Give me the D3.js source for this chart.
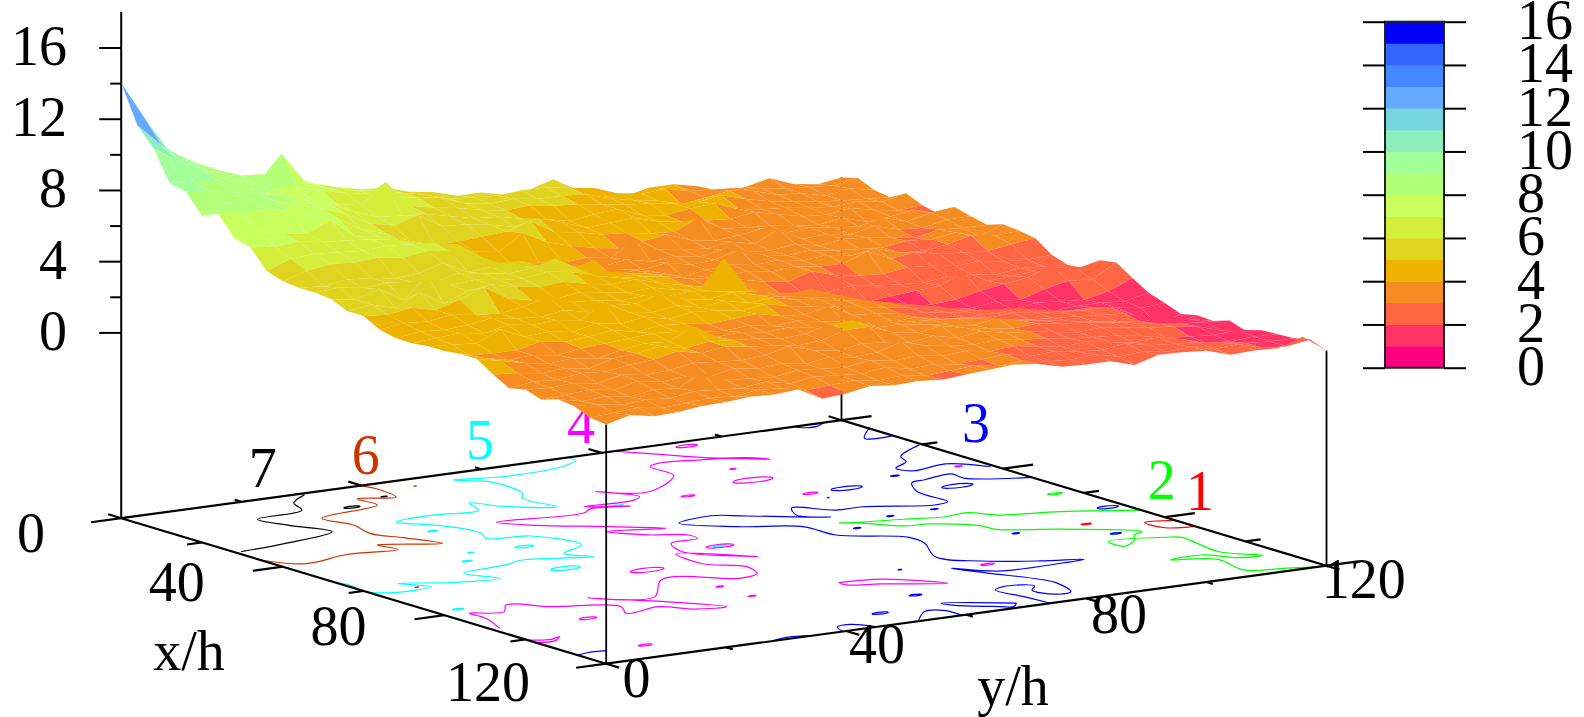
<!DOCTYPE html>
<html><head><meta charset="utf-8">
<style>html,body{margin:0;padding:0;background:#fff}svg{display:block}text{font-family:"Liberation Serif",serif;font-size:56px}</style>
<script src="https://cdn.jsdelivr.net/npm/d3@7"></script></head><body>
<svg id="c" width="1584" height="717"></svg>
<script>
const gridX=d3.range(0,121,4), gridY=d3.range(0,121,4);
const zRows=[
[14,11.8,9.8,9.05,8.4,7.9,7.8,7.5,6.9,6.5,6.2,6.1,5.7,5.5,5.1,5.1,4.8,4.9,5.3,4.5,4.1,3.8,4.1,4.1,3.8,3.35,3.4,3.7,3.2,3.0,3.2],
[11.9,10.6,9.6,8.7,8.2,7.7,9.2,7.4,6.9,6.6,6.4,6.1,5.8,5.4,5.3,5.2,5.3,5.3,5.1,4.9,4.4,4.2,4.3,4.0,3.9,3.8,3.6,3.4,3.3,3.2,3.45],
[10.9,10.0,9.3,8.6,8.2,7.9,7.6,7.2,6.9,6.7,6.3,6.1,5.9,5.4,5.2,5.3,5.1,5.1,5.0,4.6,4.3,4.1,3.7,3.9,4.1,3.9,3.5,3.4,3.1,3.3,3.05],
[9.2,9.1,8.9,8.5,7.9,8.2,7.1,6.7,6.5,7.6,6.1,5.8,5.6,5.3,5.1,5.2,5.0,4.9,4.7,4.5,4.4,4.2,4.1,4.3,3.9,3.6,3.4,3.2,3.1,3.0,2.9],
[9.0,8.8,8.6,8.3,8.1,7.6,7.2,6.6,6.1,6.0,5.9,5.6,5.3,5.2,4.9,4.7,4.4,4.6,4.7,4.2,4.0,4.2,4.3,3.8,3.6,3.5,3.3,3.2,3.3,3.1,3.4],
[7.9,8.4,8.5,8.2,7.8,7.4,6.9,6.2,5.9,6.3,5.5,5.4,5.2,4.9,5.2,4.8,4.3,4.4,4.5,4.1,3.9,3.8,3.7,3.9,3.6,3.3,3.2,3.4,3.1,2.9,3.0],
[8.3,8.1,8.2,7.9,7.4,7.1,6.3,5.9,5.3,4.9,4.9,5.0,5.1,5.5,4.7,4.5,4.2,4.1,3.9,3.8,4.4,3.6,3.5,3.4,3.2,3.1,3.3,2.9,3.0,3.2,2.8],
[7.2,7.4,7.1,6.9,7.5,6.4,6.2,5.7,5.4,4.8,4.6,4.4,5.3,4.6,4.2,3.9,3.7,3.9,4.1,3.6,3.4,3.5,3.7,3.3,3.4,3.2,3.1,3.4,3.0,3.3,3.45],
[6.95,6.8,6.9,6.7,6.6,6.5,6.3,5.9,5.2,4.6,4.0,3.8,3.9,3.7,3.8,3.6,4.5,3.7,3.5,3.4,3.6,3.3,3.95,3.2,3.3,3.1,3.4,3.0,2.9,3.2,3.2],
[5.9,6.4,6.5,6.4,6.3,6.4,6.3,6.2,5.9,5.0,4.5,4.2,3.9,3.7,3.6,3.8,3.5,3.6,3.4,3.6,3.3,3.2,3.4,3.1,3.3,3.2,3.0,2.8,3.1,3.0,3.0],
[5.6,6.0,6.2,6.1,6.2,6.0,6.2,6.0,5.4,5.0,4.9,4.5,4.1,4.4,3.7,3.5,3.7,3.4,3.5,3.9,3.4,3.2,3.3,3.1,3.0,2.9,3.1,3.0,3.2,2.8,3.3],
[5.5,5.4,5.6,5.5,5.3,5.4,5.8,5.1,5.2,5.3,4.9,4.7,4.0,3.8,3.9,3.6,3.2,3.4,3.5,3.3,3.4,3.2,3.3,3.1,3.3,2.9,2.8,3.0,3.3,3.1,3.2],
[5.5,5.6,5.4,5.5,5.4,5.2,5.5,5.3,5.1,5.2,5.6,4.8,4.5,4.2,4.0,3.7,3.5,3.3,3.4,3.2,3.3,3.1,3.1,3.6,3.0,3.2,2.9,2.8,2.7,2.9,3.05],
[5.4,5.2,5.6,4.8,6.0,5.3,5.4,5.2,5.1,5.3,5.1,4.7,4.4,4.3,4.1,3.8,3.6,3.4,3.1,2.9,3.3,2.9,2.7,2.6,2.8,2.7,2.5,2.6,2.4,2.3,2.4],
[5.0,5.2,4.8,5.5,4.7,5.2,5.4,5.1,4.9,5.0,4.7,4.5,4.6,4.2,3.9,3.6,3.3,3.0,2.7,2.5,2.4,2.6,2.4,2.3,2.2,2.4,2.3,2.1,2.3,2.2,2.1],
[5.0,4.9,5.1,4.8,5.2,5.7,4.9,4.6,4.5,4.7,4.5,4.3,4.4,4.1,3.9,5.5,3.6,3.2,2.8,2.6,2.3,1.95,2.1,2.2,2.3,2.9,2.2,2.3,2.4,2.2,2.2],
[4.5,4.7,4.6,4.8,4.6,4.5,4.7,5.1,4.6,4.5,4.3,4.4,4.2,4.3,4.1,3.9,3.7,3.4,3.5,3.0,2.6,2.0,1.8,1.7,1.8,2.1,2.3,2.5,3.0,2.6,2.9],
[4.3,4.5,4.4,4.5,4.7,4.5,4.4,4.6,4.3,4.5,4.4,4.8,4.3,4.1,4.3,4.0,3.7,3.5,3.3,3.1,2.7,2.3,1.9,1.7,1.6,1.8,1.7,2.1,2.4,2.3,3.05],
[4.3,4.4,4.5,4.3,4.6,4.4,4.5,4.3,5.1,4.4,4.2,4.4,4.1,4.3,4.0,4.1,3.8,3.6,3.4,3.2,2.9,2.6,2.3,2.0,1.7,1.6,1.8,1.7,1.6,1.9,2.45],
[4.4,4.3,4.2,4.8,4.2,4.3,4.1,4.4,4.2,4.4,4.1,4.3,4.2,4.0,4.2,3.9,3.7,3.5,3.3,3.1,2.9,2.6,2.4,2.2,2.1,1.9,1.6,1.7,1.7,1.6,1.9],
[4.4,4.0,3.9,3.9,4.2,4.0,4.1,4.3,4.0,4.2,4.1,3.9,4.0,4.1,3.8,3.7,4.0,3.3,3.2,3.0,2.9,2.7,2.5,2.3,2.4,2.1,1.9,1.9,1.7,1.5,1.6],
[4.5,4.1,3.8,3.9,3.7,3.9,4.0,4.1,4.2,4.1,3.9,3.8,3.9,3.7,3.8,3.6,3.4,3.2,3.0,3.1,2.8,2.7,2.5,2.6,2.4,2.3,2.2,2.2,1.6,0.9,1.25],
[4.5,4.2,3.9,3.7,3.8,3.6,3.9,4.1,4.0,4.7,3.9,4.0,3.8,3.9,3.7,3.6,3.8,3.5,3.3,3.2,3.1,2.9,2.7,2.5,2.4,2.3,2.2,2.1,1.7,1.1,1.45],
[3.9,3.8,3.6,3.7,3.5,3.9,4.0,4.2,3.9,4.1,4.0,3.9,3.7,3.8,4.15,4.2,3.6,3.6,3.4,3.2,3.0,3.2,2.9,2.7,2.5,2.3,2.1,1.9,2.0,1.7,1.4],
[3.4,3.6,3.5,3.7,3.6,3.8,3.9,4.2,3.9,4.1,3.9,3.8,3.6,3.7,4.1,4.1,3.6,3.4,3.6,3.3,3.1,2.9,3.0,2.8,2.7,2.5,2.3,2.1,1.9,1.8,1.7],
[3.6,3.5,3.6,3.4,3.7,3.5,3.6,3.8,3.7,3.6,3.7,4.0,3.6,3.4,3.6,3.5,3.3,3.5,3.2,3.4,3.1,3.0,2.8,2.6,2.7,2.5,2.3,2.2,2.0,1.6,1.4],
[3.3,3.4,3.5,3.3,3.6,3.4,3.5,3.3,3.6,3.4,3.5,3.3,3.5,3.3,3.4,3.8,3.4,3.2,3.1,3.2,3.0,2.9,2.7,2.6,2.5,2.3,2.0,1.9,1.8,1.9,1.7],
[3.6,3.3,3.4,3.2,3.4,3.3,4.0,3.4,3.3,3.2,3.4,3.3,3.2,3.4,3.2,3.3,3.1,3.2,3.0,3.1,2.9,2.7,2.8,2.6,2.4,2.5,2.2,1.8,1.7,1.8,1.75],
[3.5,3.4,3.2,3.3,3.2,3.4,3.3,3.2,3.4,3.1,3.3,3.2,3.1,3.3,3.0,3.1,2.9,3.0,3.1,2.8,2.9,2.7,2.6,2.8,2.5,2.4,2.3,2.1,1.9,1.8,1.8],
[3.1,3.2,3.3,3.1,3.2,3.3,3.2,3.4,3.3,3.0,3.1,3.2,3.0,3.1,2.9,3.0,3.1,2.9,3.0,2.8,2.7,2.8,2.5,2.6,2.4,2.5,2.2,2.3,1.9,1.8,2.0],
[3.0,3.35,3.1,3.15,3.3,3.35,3.45,3.4,3.5,2.8,2.9,3.15,3.0,3.05,2.95,3.05,3.15,3.25,3.1,2.75,2.7,2.7,2.3,2.7,2.65,2.55,2.15,2.2,2.15,2.6,1.65]
];
const palette=["#ff0080","#ff3366","#ff6644","#f58d22","#eeb300","#e0d420","#d5ee3c","#c8ff5c","#b3ff77","#a3ff99","#8eeebb","#77d5dd","#66aaff","#4488ff","#3366ff","#0000ff"];
const zTicks=[0,4,8,12,16], zMinor=[2,6,10,14];
const barTicks=[0,2,4,6,8,10,12,14,16];
const xMajor=[0,40,80,120], xMinor=[20,60,100];
const yMajor=[0,40,80,120], yMinor=[20,60,100];
const contourLabels=[7,6,5,4,3,2,1];
const contourColors=["#000000","#cc3300","#00ffff","#ff00ff","#0000ff","#00ff00","#ff0000"];
const c7=[[[0.9,29.9],[4.7,25.6],[9.4,23.8],[11.1,15.2],[17,16.5],[24,19],[27,9],[28.2,1]]];
const c6=[[[0.2,39.9],[4,40.5],[9.2,39.6],[7.3,34.4],[12.3,34.4],[15.5,23],[22,24],[27.8,22.7],[33,25],[39.1,27.2],[35,19.1],[39.1,19.8],[38,12],[40.1,3.8],[34.5,0]]];
const c5=[[[0.5,74.4],[2.5,74],[4.8,70.1],[5.9,59.5],[4,52.6],[7.9,56.2],[12,56.5],[16.9,55.5],[19.5,53.7],[27.1,54.4],[22.4,48],[18.3,45.7],[23.1,44],[22.3,36.9],[23.3,30.1],[29.4,34],[36.4,35.5],[39.6,34.1],[41.7,40.1],[50.8,42.5],[54.1,37.3],[58.3,39.5],[54.7,30],[56.2,26.2],[57.7,18.2],[63.5,20.4],[61.9,13],[58.4,6.8],[62.9,9.3],[63.2,2.6],[60.9,0]],[[53.5,0.1],[55,0.6],[57.5,0.4]]];
const c4=[[[0,82],[3.3,84.6],[8,88],[11.6,91],[14,95],[16.7,96.9],[13,92.5],[11.6,88.7],[10.3,82.5],[11.6,80.3],[18.2,79.8],[20.8,77.6],[25.7,70.8],[24.5,66.8],[21.5,64.5],[27.7,67.7],[29.3,65.7],[29.2,57.4],[32.4,63],[31,57.2],[32.8,55],[31.2,41.5],[35.5,44.3],[42.4,52.6],[47.8,58.6],[45,50.4],[50.1,53.9],[53.3,58.6],[56,58.3],[56.7,53.4],[62.2,51.5],[70.9,58.3],[63,50],[70.7,49.2],[75.8,53.2],[80.4,51.8],[81.9,48.2],[76.7,38.3],[85.7,31.2],[81.3,23],[89.7,30.8],[97,35.6],[95.8,31],[91.7,27.8],[92.9,21.6],[88.8,23.5],[83.4,15.5],[79,10.9],[82.6,8.2],[80.8,3.6],[84.9,3.6],[91.7,1.3]],[[100.5,0],[102,3],[101,5],[103,3],[102.5,0]],[[92,57.6],[93.4,64],[100.8,69.9],[96,62],[93.8,57.6],[92,57.6]]];
const c3=[[[0,112],[1.5,113],[1.5,115],[0,117]],[[7,119.8],[11.9,115.8],[12.8,119.8]],[[20,119.5],[25.2,112.9],[28.5,111.6],[31.4,107.9],[34.3,109],[32.8,115.2],[37.9,119.3]],[[47.1,120],[42.3,111.9],[38.9,112.1],[40.2,106.8],[41,104.1],[46.3,101.4],[54.4,101.1],[55.3,98.3],[50.7,89.3],[50.6,85],[46,80.7],[50.3,78.6],[54.2,81.7],[47,72.5],[44.1,68.5],[45.9,62],[52.3,67.3],[57.6,75],[64.7,75.5],[71.7,83],[76.3,82.5],[84.6,78.6],[90.8,82.4],[95.2,89],[97.6,94.7],[98.1,90.5],[97.7,80.3],[92.5,76],[98.1,78.3],[108.7,82.5],[115,80.8],[115.2,78],[111,77],[109,78.8],[106.9,75],[108.2,72.8],[114.2,73.5],[119.8,74]],[[117.3,70.2],[111.5,61.5],[113.5,62],[118,67],[119.1,68.5],[117.3,70.2]],[[120,52],[115,56.4],[116.1,59.2],[119.7,59.3]],[[119.8,39.5],[117,40.5],[116.5,43],[119.8,45]],[[119.8,28],[119,31],[119.8,34]],[[113,0],[112.3,2],[112.6,5]]];
const c2=[[[74.2,120],[68.8,110.2],[65.9,101.7],[62.1,99],[62.8,95],[61,89.3],[58.5,81],[58,80.5],[60,83],[64.8,86.7],[65.7,90.5],[70.5,95.6],[73.8,96],[78.8,103.5],[86.4,111.9],[87.7,109.7],[90.6,107.8],[93.4,104.3],[89.4,104.2],[91.4,112.4],[92.8,114.2],[103.6,113],[109.2,116.6],[108.7,113],[104.3,109.8],[104.7,104.3],[108,110],[116,108.9],[118.3,114.4],[120,119]]];
const c1=[[[82.7,120],[81.5,115.6],[86,116],[87.5,120]]];
const contours=[c7,c6,c5,c4,c3,c2,c1];
const islands7=[[8,38.4,0.5],[11.5,30.7,1.3]];
const islands6=[[4.4,46,0.2],[62,7.5,0.3]];
const islands5=[[47.2,35.4,1.5],[62.7,31.8,2.4],[31.3,30.8,0.8],[46.5,26.9,0.5],[51,23.3,0.8],[77.6,3.9,0.9],[31.2,61.7,0.9],[62,58,1.1]];
const islands4=[[2.7,92.4,1.7],[19.3,88.9,0.5],[27.1,87,3.2],[31.1,73.5,1.1],[39.1,88.5,1.2],[35.2,115.8,0.6],[62,58,2.2],[93,81.7,1.1],[70,40.5,2.7],[85,42.5,0.6],[92.8,42.6,0.6],[112.4,11.6,1.1],[92.8,15.3,1.4]];
const islands3=[[35.6,104.9,0.7],[46.2,108.2,2.5],[39,94.6,2.5],[57.6,96.7,0.6],[58.1,89,0.6],[62.4,80.6,0.6],[77.6,96.8,0.6],[85.4,108.2,0.9],[69.9,117.3,1.7],[89.3,69.6,0.3],[104.9,61.7,1],[112.5,50.7,1.3],[42.9,88.9,0.15]];
const islands2=[[58.2,116.4,1.2]];
const islands1=[[77.8,108.4,0.8]];
const islandSets=[islands7,islands6,islands5,islands4,islands3,islands2,islands1];

const svg=d3.select("#c");
const xSx=d3.scaleLinear([0,120],[0,485]), xSy=d3.scaleLinear([0,120],[0,145.5]);
const ySx=d3.scaleLinear([0,120],[0,720.3]), ySy=d3.scaleLinear([0,120],[0,-98]);
const zS=d3.scaleLinear([0,16],[332.4,47.5]);
const ox=121.2, floorY=518.2, zFloor=zS.invert(floorY);
const P=(x,y,z)=>[ox+xSx(x)+ySx(y), zS(z)+xSy(x)+ySy(y)];
const F=(x,y)=>P(x,y,zFloor);
const color=d3.scaleQuantize().domain([0,16]).range(palette);
const seg=(g,a,b,w,c)=>g.append("line").attr("x1",a[0]).attr("y1",a[1]).attr("x2",b[0]).attr("y2",b[1]).attr("stroke",c||"#000").attr("stroke-width",w);

const gC=svg.append("g").attr("fill","none");
const ln=d3.line().curve(d3.curveCatmullRom.alpha(0.5));
const ring=d3.line().curve(d3.curveCardinalClosed);
contours.forEach((set,k)=>{
  set.forEach(pts=>gC.append("path").attr("d",ln(pts.map(p=>F(p[0],p[1])))).attr("stroke",contourColors[k]).attr("stroke-width",1.2));
  islandSets[k].forEach(([x,y,w])=>{
    const pts=d3.range(0,6.28,0.79).map(a=>F(x+Math.sin(a)*w*0.45,y+Math.cos(a)*w));
    gC.append("path").attr("d",ring(pts)).attr("stroke",contourColors[k]).attr("stroke-width",1.2);
  });
});
const gA=svg.append("g");
const corners=[[0,0],[120,0],[120,120],[0,120]];
gA.append("path").attr("d",d3.line()(corners.map(c=>F(c[0],c[1])))+"Z").attr("fill","none").attr("stroke","#000").attr("stroke-width",2.2);
const tick=(list,lenY,lenX,w)=>list.forEach(v=>{
  seg(gA,F(v,0),F(v,-lenY),w); seg(gA,F(v,120),F(v,120+lenY),w);
  seg(gA,F(120,v),F(120+lenX,v),w); seg(gA,F(0,v),F(-lenX,v),w);
});
tick(xMajor,5,3.2,2.2); tick(xMinor,2.5,1.6,2.2);
const VW=1.8;
seg(gA,F(0,0),[ox,12],2);
seg(gA,F(120,0),P(120,0,3),VW);
seg(gA,F(0,120),P(0,120,3.2),VW);
seg(gA,F(120,120),P(120,120,1.65),VW);
const axZ=svg.append("g").attr("transform",`translate(${ox},0)`).call(d3.axisLeft(zS).tickValues(zTicks).tickSize(22).tickPadding(0).tickFormat(""));
axZ.select(".domain").remove();
axZ.selectAll("line").attr("stroke-width",2);
const axZm=svg.append("g").attr("transform",`translate(${ox},0)`).call(d3.axisLeft(zS).tickValues(zMinor).tickSize(11).tickFormat(""));
axZm.select(".domain").remove();
axZm.selectAll("line").attr("stroke-width",2);
const T=(s,x,y,a,c)=>svg.append("text").text(s).attr("x",x).attr("y",y).attr("text-anchor",a||"middle").attr("fill",c||"#000");
zTicks.forEach(z=>T(z,67,zS(z)+17.5,"end"));
const xLabelPos=[[31,552],[176.8,601],[338.4,645],[488,701]];
xMajor.forEach((v,i)=>T(v,xLabelPos[i][0],xLabelPos[i][1]));
const yLabelPos=[[636.4,697],[877,663],[1119,633],[1363.8,598]];
yMajor.forEach((v,i)=>T(v,yLabelPos[i][0],yLabelPos[i][1]));
T("x/h",189,670); T("y/h",1013,705);
const clPos=[[262.7,487],[365.7,474],[480,459],[581,443],[976,442],[1161.7,499],[1200,510]];
contourLabels.forEach((v,i)=>T(v,clPos[i][0],clPos[i][1],"middle",contourColors[i]));
const gS=svg.append("g");
for(let i=0;i<gridX.length-1;i++){
  for(let j=gridY.length-2;j>=0;j--){
    const q=[[i,j],[i+1,j],[i+1,j+1],[i,j+1]];
    const m=d3.mean(q,c=>zRows[c[0]][c[1]]);
    gS.append("path").attr("d",d3.line()(q.map(c=>P(gridX[c[0]],gridY[c[1]],zRows[c[0]][c[1]])))+"Z").attr("fill",color(m));
  }
}
const barY=d3.scaleLinear([0,16],[367.7,21.7]);
const gB=svg.append("g");
palette.forEach((c,k)=>gB.append("rect").attr("x",1385).attr("width",59).attr("y",barY(k+1)).attr("height",barY(k)-barY(k+1)+0.5).attr("fill",c));
gB.append("rect").attr("x",1385).attr("y",barY(16)).attr("width",59).attr("height",barY(0)-barY(16)).attr("fill","none").attr("stroke","#222").attr("stroke-width",2);
const axL=svg.append("g").attr("transform","translate(1385,0)").call(d3.axisLeft(barY).tickValues(barTicks).tickSize(22).tickFormat(""));
const axR=svg.append("g").attr("transform","translate(1444,0)").call(d3.axisRight(barY).tickValues(barTicks).tickSize(22).tickFormat(""));
[axL,axR].forEach(a=>{a.select(".domain").remove();a.selectAll("line").attr("stroke-width",2);});
barTicks.forEach(v=>T(v,1517,barY(v)+17.5,"start"));
</script></body></html>
